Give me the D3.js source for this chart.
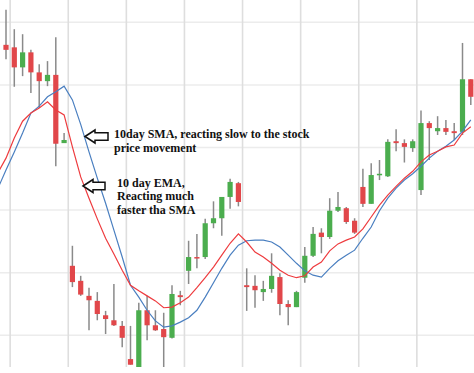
<!DOCTYPE html>
<html lang="en">
<head>
<meta charset="UTF-8">
<title>10 day SMA vs EMA</title>
<script src="https://d3js.org/d3.v7.min.js"></script>
<style>
  html, body { margin: 0; padding: 0; background: #fff; }
  svg { display: block; }
</style>
</head>
<body>
<svg id="chart"></svg>
<script>
// candles, one per day (day 1..57)
const opens  = [96.4, 96.0, 92.8, 95.2, 92.0, 90.6, 91.6, 80.7, 61.1, 58.7, 56.3, 55.5, 53.2, 52.4, 51.5, 46.2, 44.9, 54.0, 51.6, 51.0, 49.6, 56.4, 60.3, 62.5, 62.5, 67.9, 68.7, 72.1, 74.3, 58.0, 57.9, 56.9, 57.4, 59.3, 55.0, 54.5, 59.2, 62.7, 66.4, 65.7, 69.9, 70.3, 68.3, 73.7, 71.0, 75.6, 75.4, 81.0, 80.7, 79.9, 73.2, 83.9, 82.6, 83.1, 82.6, 82.5, 90.9]
const highs  = [102.0, 98.9, 98.1, 95.6, 93.3, 93.8, 97.6, 82.3, 64.3, 59.5, 57.6, 56.9, 53.9, 58.2, 52.3, 51.5, 55.2, 56.3, 54.0, 53.6, 58.0, 57.1, 65.1, 66.2, 68.6, 71.4, 72.1, 75.0, 74.5, 60.7, 59.6, 58.7, 63.1, 59.9, 55.6, 57.1, 64.1, 67.3, 67.1, 71.9, 72.9, 70.5, 68.7, 76.6, 77.5, 78.0, 81.3, 82.9, 81.3, 81.3, 85.9, 84.2, 85.0, 84.4, 83.9, 96.7, 90.9]
const lows   = [94.1, 89.7, 91.4, 88.7, 86.3, 89.8, 77.0, 80.7, 57.7, 56.3, 50.8, 52.4, 50.2, 51.5, 48.1, 45.3, 44.5, 49.2, 50.7, 44.8, 49.5, 54.8, 58.2, 60.7, 62.2, 67.1, 65.9, 70.2, 70.6, 53.9, 54.4, 55.5, 56.8, 53.2, 51.6, 54.5, 58.4, 62.5, 63.1, 65.4, 69.7, 67.8, 66.2, 70.5, 71.0, 74.8, 75.3, 79.4, 77.6, 79.3, 72.4, 78.0, 82.0, 82.0, 81.2, 82.0, 86.8]
const closes = [95.6, 92.8, 95.2, 92.0, 90.6, 91.6, 80.6, 81.2, 58.5, 56.5, 55.6, 53.4, 52.6, 51.6, 49.6, 45.3, 54.0, 51.6, 50.8, 49.7, 56.6, 56.1, 62.5, 62.3, 67.9, 68.7, 72.1, 74.5, 71.3, 57.7, 57.2, 57.4, 59.5, 55.0, 54.5, 56.9, 62.7, 66.2, 65.7, 69.9, 70.5, 68.1, 66.4, 71.0, 75.6, 75.8, 80.9, 80.7, 80.1, 81.0, 83.9, 83.1, 83.1, 82.5, 82.3, 90.9, 88.1]

// moving averages, day 0..57 (day 0 is just left of the view)
const sma10 = [73.4, 76.4, 79.3, 82.3, 85.5, 86.6, 88.1, 88.9, 89.8, 87.6, 83.7, 79.3, 75.1, 71.1, 66.8, 62.5, 58.0, 56.1, 54.0, 52.3, 51.3, 51.5, 52.1, 52.8, 54.0, 56.1, 58.4, 60.7, 62.8, 64.4, 65.1, 65.2, 65.2, 64.9, 64.1, 62.8, 61.5, 60.3, 59.6, 59.3, 60.7, 61.9, 62.8, 63.6, 65.5, 67.3, 69.9, 71.9, 73.5, 74.8, 75.8, 77.0, 78.3, 79.4, 80.2, 81.2, 82.6, 84.4]
const ema10 = [75.9, 78.3, 81.5, 84.2, 85.5, 86.3, 87.3, 86.0, 85.2, 80.1, 75.3, 71.9, 68.6, 65.5, 63.0, 60.4, 58.0, 57.1, 56.3, 55.5, 54.4, 54.5, 55.2, 56.1, 57.6, 59.2, 60.9, 62.8, 64.7, 66.2, 64.9, 63.3, 62.5, 61.5, 60.4, 59.6, 59.2, 59.5, 60.9, 61.7, 63.5, 64.6, 65.2, 65.7, 67.0, 68.9, 70.8, 72.4, 73.8, 75.1, 76.2, 77.7, 78.8, 79.4, 80.1, 80.4, 82.3, 83.3]

const priceTicks = [50, 60, 70, 80, 90, 100]
const weekTicks = [1.5, 8.5, 15.5, 22.5, 29.5, 36.5, 43.5, 50.5]

const smaNote = ["10day SMA, reacting slow to the stock", "price movement"]
const emaNote = ["10 day EMA,", "Reacting much", "faster tha SMA"]

const width = 474, height = 373, plotBottom = 367

const svg = d3.select("#chart").attr("width", width).attr("height", height)

const x = d3.scaleLinear().domain([1, 57]).range([6, 470.8])
const y = d3.scaleLinear().domain([50, 100]).range([335.3, 22.3])

svg.append("defs").append("clipPath").attr("id", "plot")
  .append("rect").attr("x", 0).attr("y", 0).attr("width", width).attr("height", plotBottom)

const plot = svg.append("g").attr("clip-path", "url(#plot)")

// grid
plot.append("g")
  .selectAll("line")
  .data(priceTicks)
  .join("line")
    .attr("x1", 0).attr("x2", width)
    .attr("y1", d => y(d)).attr("y2", d => y(d))
    .attr("stroke", "#ececec").attr("stroke-width", 1.5)

plot.append("g")
  .selectAll("line")
  .data(weekTicks)
  .join("line")
    .attr("x1", d => x(d)).attr("x2", d => x(d))
    .attr("y1", 0).attr("y2", plotBottom)
    .attr("stroke", "#dedede").attr("stroke-width", 1.6)

// candles
const days = d3.range(opens.length).map(i => ({
  day: i + 1, o: opens[i], h: highs[i], l: lows[i], c: closes[i]
}))
const up = "#4bad4e", down = "#e1474a"

const candle = plot.append("g")
  .selectAll("g")
  .data(days)
  .join("g")

candle.append("line")
    .attr("x1", d => x(d.day)).attr("x2", d => x(d.day))
    .attr("y1", d => y(d.h)).attr("y2", d => y(d.l))
    .attr("stroke", "#8a8a8a").attr("stroke-width", 1.5)

candle.append("rect")
    .attr("x", d => x(d.day) - 2.6)
    .attr("width", 5.2)
    .attr("y", d => y(Math.max(d.o, d.c)))
    .attr("height", d => Math.max(1.5, Math.abs(y(d.o) - y(d.c))))
    .attr("fill", d => d.c > d.o ? up : down)

// moving averages
const line = d3.line().x((d, i) => x(i)).y(d => y(d))

plot.append("path")
    .attr("d", line(sma10))
    .attr("fill", "none").attr("stroke", "#4a7fc0").attr("stroke-width", 1.2)

plot.append("path")
    .attr("d", line(ema10))
    .attr("fill", "none").attr("stroke", "#ee3b3e").attr("stroke-width", 1.2)

// notes
function arrow(x0, cy, x1) {
  const hw = 10, hh = 6.5, th = 3.8
  return `M${x0},${cy} L${x0 + hw},${cy - hh} L${x0 + hw},${cy - th} L${x1},${cy - th}
          L${x1},${cy + th} L${x0 + hw},${cy + th} L${x0 + hw},${cy + hh} Z`
}

svg.append("path").attr("d", arrow(85, 136.5, 108))
  .attr("fill", "#fff").attr("stroke", "#111").attr("stroke-width", 1.5)
svg.append("path").attr("d", arrow(83, 186, 105))
  .attr("fill", "#fff").attr("stroke", "#111").attr("stroke-width", 1.5)

function note(lines, x0, y0, step) {
  svg.append("text")
      .attr("font-family", "'Liberation Serif', 'Times New Roman', serif")
      .attr("font-weight", "bold")
      .attr("font-size", "12px")
      .attr("fill", "#111")
    .selectAll("tspan")
    .data(lines)
    .join("tspan")
      .attr("x", x0)
      .attr("y", (d, i) => y0 + i * step)
      .text(d => d)
}
note(smaNote, 114, 137.7, 14)
note(emaNote, 117, 186.5, 13.5)
</script>
</body>
</html>
